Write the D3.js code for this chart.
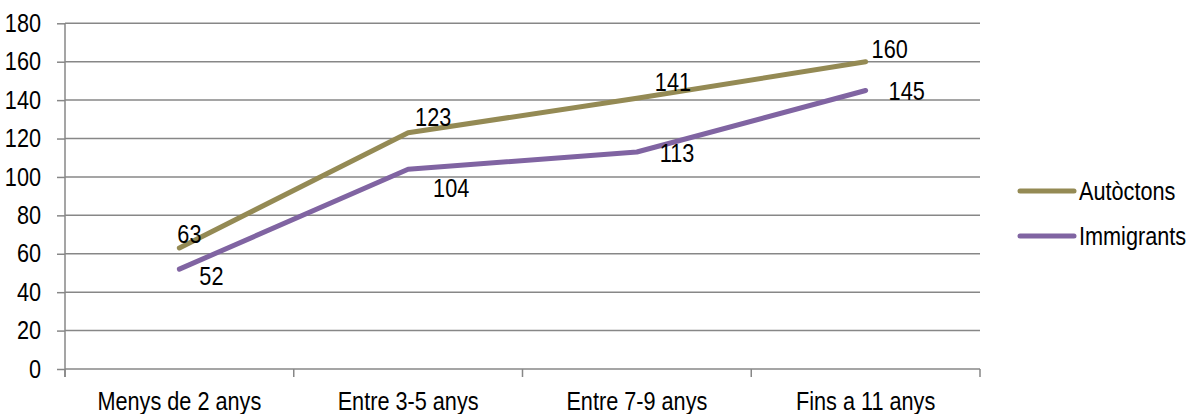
<!DOCTYPE html>
<html>
<head>
<meta charset="utf-8">
<script src="https://cdn.jsdelivr.net/npm/d3@7"></script>
<style>
  html, body { margin: 0; padding: 0; background: #fff; }
  svg { display: block; }
  text { font-family: "Liberation Sans Narrow", "Arial Narrow", "Liberation Sans", Arial, sans-serif; fill: #000; }
</style>
</head>
<body>
<svg id="chart" width="1193" height="414"></svg>
<script>
const categories = ["Menys de 2 anys", "Entre 3-5 anys", "Entre 7-9 anys", "Fins a 11 anys"];
const autoctons = [63, 123, 141, 160];
const immigrants = [52, 104, 113, 145];
const seriesNames = ["Autòctons", "Immigrants"];
const yTicks = [0, 20, 40, 60, 80, 100, 120, 140, 160, 180];
// label offsets (dx from point to label left edge, dy to label middle)
const autoctonsLabelOffsets = [[-2, -14], [7, -16], [18, -16], [6, -13]];
const immigrantsLabelOffsets = [[20, 7], [25, 19], [23, 1], [23, 1]];

const colors = ["#948A54", "#8064A2"];
const svg = d3.select("#chart");
const mLeft = 65, mRight = 980, mTop = 23.3, mBottom = 369;
const fontSize = 25.5;
const SX = 0.85; // horizontal condensing (narrow typeface look)

function condense(sel) {
  sel.each(function () {
    const t = d3.select(this);
    const xv = +(t.attr("x") || 0);
    t.attr("x", xv / SX).attr("transform", `scale(${SX},1)`);
  });
}

const x = d3.scaleBand().domain(categories).range([mLeft, mRight]);
const y = d3.scaleLinear().domain([0, 180]).range([mBottom, mTop]);
const gridColor = "#878787";

// gridlines
svg.append("g").selectAll("line").data(yTicks.filter(d => d > 0)).join("line")
  .attr("x1", mLeft).attr("x2", mRight)
  .attr("y1", d => y(d)).attr("y2", d => y(d))
  .attr("stroke", gridColor).attr("stroke-width", 1.5);

// y axis
const yAxis = svg.append("g").attr("transform", `translate(${mLeft},0)`)
  .call(d3.axisLeft(y).tickValues(yTicks).tickSize(8).tickPadding(16));
yAxis.select(".domain").attr("stroke", gridColor).attr("stroke-width", 1.5)
  .attr("d", `M0,${mTop}V${mBottom + 8}`);
yAxis.selectAll(".tick line").attr("stroke", gridColor).attr("stroke-width", 1.5);
yAxis.selectAll(".tick text").attr("font-size", fontSize).attr("font-family", null).attr("fill", "#000")
  .call(condense);

// x axis
const xAxis = svg.append("g").attr("transform", `translate(0,${mBottom})`)
  .call(d3.axisBottom(x).tickSize(0).tickPadding(23));
xAxis.select(".domain").attr("stroke", gridColor).attr("stroke-width", 1.5)
  .attr("d", `M${mLeft},0H${mRight}`);
xAxis.selectAll(".tick text").attr("font-size", fontSize).attr("font-family", null).attr("fill", "#000")
  .call(condense);
// category boundary ticks
const bounds = categories.map(c => x(c)).concat([mRight]);
xAxis.append("g").selectAll("line").data(bounds).join("line")
  .attr("x1", d => d).attr("x2", d => d).attr("y1", 0).attr("y2", 8)
  .attr("stroke", gridColor).attr("stroke-width", 1.5);

const cx = c => x(c) + x.bandwidth() / 2;
const line = d3.line().x(d => cx(d.c)).y(d => y(d.v));

const series = [
  { name: seriesNames[0], values: autoctons, offs: autoctonsLabelOffsets, color: colors[0] },
  { name: seriesNames[1], values: immigrants, offs: immigrantsLabelOffsets, color: colors[1] }
];

series.forEach(s => {
  const pts = s.values.map((v, i) => ({ c: categories[i], v, o: s.offs[i] }));
  svg.append("path").datum(pts)
    .attr("d", line).attr("fill", "none")
    .attr("stroke", s.color).attr("stroke-width", 5)
    .attr("stroke-linecap", "round").attr("stroke-linejoin", "round");
  svg.append("g").selectAll("text").data(pts).join("text")
    .attr("x", d => cx(d.c) + d.o[0])
    .attr("y", d => y(d.v) + d.o[1])
    .attr("dy", "0.35em")
    .attr("font-size", fontSize)
    .text(d => d.v)
    .call(condense);
});

// legend
const legend = svg.append("g");
series.forEach((s, i) => {
  const ly = 191 + i * 45;
  legend.append("line").attr("x1", 1020).attr("x2", 1074).attr("y1", ly).attr("y2", ly)
    .attr("stroke", s.color).attr("stroke-width", 5).attr("stroke-linecap", "round");
  legend.append("text").attr("x", 1079).attr("y", ly).attr("dy", "0.35em")
    .attr("font-size", fontSize).text(s.name)
    .call(condense);
});
</script>
</body>
</html>
